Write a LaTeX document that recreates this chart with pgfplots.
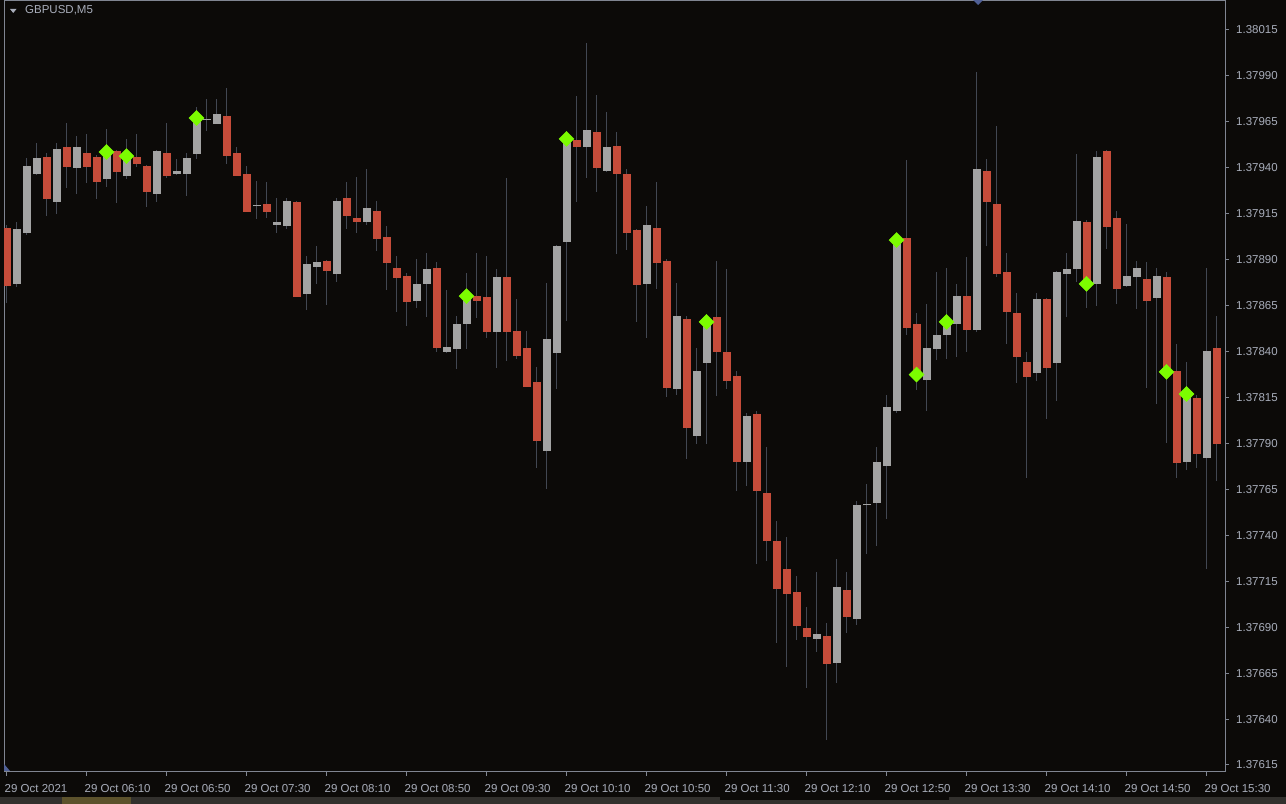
\documentclass[border=0pt]{standalone}
\usepackage{pgfplots}
\pgfplotsset{compat=1.18}
\usepackage{fontspec}
\setmainfont{Liberation Sans}
\definecolor{bgc}{RGB}{12,10,8}
\definecolor{redc}{RGB}{198,76,58}
\definecolor{grayc}{RGB}{163,163,163}
\definecolor{wickc}{RGB}{66,71,82}
\definecolor{framec}{RGB}{128,133,145}
\definecolor{textc}{RGB}{168,173,186}
\definecolor{limec}{RGB}{124,252,0}
\definecolor{markc}{RGB}{80,96,150}
\definecolor{bandc}{RGB}{50,48,45}
\definecolor{patchc}{RGB}{92,82,44}
\newcommand{\lblfont}{\fontsize{11.5bp}{13bp}\selectfont}
\begin{document}
\begin{tikzpicture}
\fill[bgc] (0,0) rectangle (1286bp,804bp);
\fill[bandc] (0,0) rectangle (1286bp,7bp);
\fill[patchc] (62bp,0) rectangle (131bp,7bp);
\fill[bgc] (720bp,4bp) rectangle (949bp,7bp);
% prices are given in points (0.00001) above 1.37600
\begin{axis}[
  at={(4bp,32bp)}, anchor=south west,
  scale only axis, width=1221bp, height=771bp,
  xmin=-0.25, xmax=121.85, ymin=11.19, ymax=430.78,
  axis line style={draw=framec, line width=1bp},
  axis background/.style={fill=bgc},
  xtick={0,8,...,120},
  xticklabels={29 Oct 2021,29 Oct 06:10,29 Oct 06:50,29 Oct 07:30,29 Oct 08:10,29 Oct 08:50,29 Oct 09:30,29 Oct 10:10,29 Oct 10:50,29 Oct 11:30,29 Oct 12:10,29 Oct 12:50,29 Oct 13:30,29 Oct 14:10,29 Oct 14:50,29 Oct 15:30},
  ytick={15,40,...,415},
  yticklabels={1.37615,1.37640,1.37665,1.37690,1.37715,1.37740,1.37765,1.37790,1.37815,1.37840,1.37865,1.37890,1.37915,1.37940,1.37965,1.37990,1.38015},
  tick align=outside, xtick pos=left, ytick pos=right, yticklabel pos=right,
  major tick length=4bp,
  tick style={draw=framec, line width=1bp},
  xticklabel style={anchor=base west, inner sep=0pt, yshift=-17bp, xshift=-2bp, font=\lblfont, text=textc},
  yticklabel style={anchor=west, inner sep=0pt, xshift=7bp, font=\lblfont, text=textc},
  unbounded coords=jump,
]
% wicks (low, high)
\addplot[draw=wickc, line width=1bp, mark=none] coordinates {
(0,266.4)(0,308.9)(0,nan) (1,275.1)(1,310.5)(1,nan) (2,303.4)(2,345.3)(2,nan) (3,336.1)(3,353.5)(3,nan)
(4,313.8)(4,348.1)(4,nan) (5,314.9)(5,353.5)(5,nan) (6,329.0)(6,364.4)(6,nan) (7,325.8)(7,357.3)(7,nan)
(8,331.7)(8,358.4)(8,nan) (9,323.0)(9,347.0)(9,nan) (10,329.6)(10,361.1)(10,nan) (11,320.9)(11,349.7)(11,nan)
(12,333.9)(12,355.7)(12,nan) (13,340.4)(13,358.4)(13,nan) (14,318.7)(14,341.5)(14,nan) (15,321.4)(15,349.7)(15,nan)
(16,334.5)(16,364.4)(16,nan) (17,336.1)(17,344.8)(17,nan) (18,324.7)(18,348.1)(18,nan) (19,344.8)(19,373.1)(19,nan)
(20,360.0)(20,377.4)(20,nan) (21,363.8)(21,377.4)(21,nan) (22,342.1)(22,383.4)(22,nan) (23,335.5)(23,351.3)(23,nan)
(24,316.0)(24,341.0)(24,nan) (25,312.1)(25,332.8)(25,nan) (26,312.7)(26,332.3)(26,nan) (27,304.5)(27,323.6)(27,nan)
(28,306.7)(28,323.6)(28,nan) (29,269.7)(29,321.9)(29,nan) (30,262.6)(30,292.0)(30,nan) (31,276.8)(31,297.5)(31,nan)
(32,265.3)(32,289.8)(32,nan) (33,277.9)(33,323.6)(33,nan) (34,306.7)(34,332.3)(34,nan) (35,304.5)(35,335.0)(35,nan)
(36,308.9)(36,339.4)(36,nan) (37,294.7)(37,321.9)(37,nan) (38,273.5)(38,308.3)(38,nan) (39,261.5)(39,292.0)(39,nan)
(40,253.9)(40,282.8)(40,nan) (41,263.7)(41,290.4)(41,nan) (42,258.8)(42,293.6)(42,nan) (43,239.8)(43,288.7)(43,nan)
(44,239.2)(44,273.5)(44,nan) (45,230.5)(45,259.4)(45,nan) (46,241.4)(46,282.8)(46,nan) (47,258.3)(47,293.6)(47,nan)
(48,247.4)(48,292.0)(48,nan) (49,231.1)(49,284.9)(49,nan) (50,234.9)(50,334.5)(50,nan) (51,236.0)(51,268.6)(51,nan)
(52,220.7)(52,251.2)(52,nan) (53,176.6)(53,231.6)(53,nan) (54,165.2)(54,277.3)(54,nan) (55,219.6)(55,298.0)(55,nan)
(56,256.6)(56,355.1)(56,nan) (57,321.4)(57,379.1)(57,nan) (58,334.5)(58,407.9)(58,nan) (59,326.8)(59,379.6)(59,nan)
(60,337.7)(60,370.4)(60,nan) (61,293.1)(61,359.5)(61,nan) (62,295.3)(62,339.4)(62,nan) (63,256.1)(63,306.7)(63,nan)
(64,247.4)(64,319.2)(64,nan) (65,274.1)(65,332.3)(65,nan) (66,215.3)(66,290.4)(66,nan) (67,216.4)(67,277.3)(67,nan)
(68,181.5)(68,259.4)(68,nan) (69,189.7)(69,241.9)(69,nan) (70,189.7)(70,257.2)(70,nan) (71,215.8)(71,289.3)(71,nan)
(72,219.6)(72,284.9)(72,nan) (73,164.1)(73,229.4)(73,nan) (74,166.8)(74,206.6)(74,nan) (75,124.4)(75,207.7)(75,nan)
(76,126.0)(76,188.1)(76,nan) (77,81.4)(77,147.8)(77,nan) (78,68.3)(78,139.1)(78,nan) (79,83.0)(79,117.9)(79,nan)
(80,56.9)(80,101.0)(80,nan) (81,76.5)(81,120.0)(81,nan) (82,28.6)(82,92.3)(82,nan) (83,59.6)(83,127.1)(83,nan)
(84,86.8)(84,120.0)(84,nan) (85,91.2)(85,158.7)(85,nan) (86,129.8)(86,167.9)(86,nan) (87,134.2)(87,188.1)(87,nan)
(88,148.9)(88,216.4)(88,nan) (89,206.6)(89,301.8)(89,nan) (90,249.0)(90,344.3)(90,nan) (91,219.1)(91,261.0)(91,nan)
(92,207.7)(92,265.9)(92,nan) (93,235.4)(93,283.3)(93,nan) (94,236.0)(94,285.5)(94,nan) (95,237.0)(95,276.8)(95,nan)
(96,239.8)(96,291.5)(96,nan) (97,250.6)(97,392.1)(97,nan) (98,297.5)(98,344.8)(98,nan) (99,280.6)(99,362.8)(99,nan)
(100,244.1)(100,293.6)(100,nan) (101,222.9)(101,271.9)(101,nan) (102,171.2)(102,239.8)(102,nan) (103,224.0)(103,271.9)(103,nan)
(104,203.3)(104,269.2)(104,nan) (105,213.1)(105,283.8)(105,nan) (106,258.8)(106,293.6)(106,nan) (107,277.9)(107,347.5)(107,nan)
(108,263.7)(108,311.6)(108,nan) (109,264.8)(109,349.2)(109,nan) (110,295.8)(110,349.7)(110,nan) (111,265.9)(111,316.5)(111,nan)
(112,275.1)(112,309.4)(112,nan) (113,263.2)(113,289.3)(113,nan) (114,220.2)(114,288.7)(114,nan) (115,211.5)(115,285.5)(115,nan)
(116,190.2)(116,283.3)(116,nan) (117,171.2)(117,244.1)(117,nan) (118,175.5)(118,234.3)(118,nan) (119,176.6)(119,216.4)(119,nan)
(120,121.7)(120,285.5)(120,nan) (121,169.6)(121,259.4)(121,nan)
};
% bearish bodies (open, close)
\addplot[draw=redc, line width=8bp, line cap=butt, mark=none] coordinates {
(0,307.2)(0,275.7)(0,nan) (4,345.9)(4,323.0)(4,nan) (6,351.3)(6,340.4)(6,nan) (8,348.1)(8,340.4)(8,nan)
(9,345.9)(9,332.3)(9,nan) (11,349.2)(11,337.7)(11,nan) (13,345.9)(13,342.1)(13,nan) (14,341.0)(14,326.8)(14,nan)
(16,348.1)(16,335.5)(16,nan) (22,368.2)(22,346.4)(22,nan) (23,348.1)(23,335.5)(23,nan) (24,336.6)(24,316.0)(24,nan)
(26,320.3)(26,316.0)(26,nan) (29,321.4)(29,269.7)(29,nan) (32,289.3)(32,283.8)(32,nan) (34,323.6)(34,313.8)(34,nan)
(35,312.7)(35,310.5)(35,nan) (37,316.5)(37,301.3)(37,nan) (38,302.4)(38,288.2)(38,nan) (39,285.5)(39,280.0)(39,nan)
(40,281.1)(40,267.0)(40,nan) (43,285.5)(43,241.9)(43,nan) (47,270.2)(47,267.5)(47,nan) (48,269.7)(48,250.6)(48,nan)
(50,280.6)(50,250.6)(50,nan) (51,251.2)(51,237.6)(51,nan) (52,241.9)(52,220.7)(52,nan) (53,223.4)(53,191.3)(53,nan)
(57,355.1)(57,351.3)(57,nan) (59,359.5)(59,339.9)(59,nan) (61,351.9)(61,336.6)(61,nan) (62,336.6)(62,304.5)(62,nan)
(63,306.2)(63,276.2)(63,nan) (65,307.2)(65,288.2)(65,nan) (66,289.3)(66,220.2)(66,nan) (68,257.7)(68,198.4)(68,nan)
(71,258.8)(71,239.8)(71,nan) (72,239.8)(72,224.0)(72,nan) (73,226.7)(73,179.9)(73,nan) (75,206.0)(75,164.1)(75,nan)
(76,163.0)(76,136.9)(76,nan) (77,136.9)(77,110.8)(77,nan) (78,121.7)(78,108.1)(78,nan) (79,109.2)(79,90.6)(79,nan)
(80,89.6)(80,84.7)(80,nan) (82,85.2)(82,70.0)(82,nan) (84,110.2)(84,95.5)(84,nan) (90,301.8)(90,252.8)(90,nan)
(91,255.0)(91,228.3)(91,nan) (96,270.2)(96,251.7)(96,nan) (98,338.3)(98,321.4)(98,nan) (99,320.3)(99,282.2)(99,nan)
(100,283.3)(100,261.5)(100,nan) (101,261.0)(101,237.0)(101,nan) (102,234.3)(102,226.2)(102,nan) (104,268.6)(104,231.1)(104,nan)
(108,310.5)(108,277.9)(108,nan) (110,349.2)(110,307.8)(110,nan) (111,312.7)(111,274.1)(111,nan) (114,279.5)(114,267.5)(114,nan)
(116,280.6)(116,228.9)(116,nan) (117,229.4)(117,179.4)(117,nan) (119,214.7)(119,184.3)(119,nan) (121,241.9)(121,189.7)(121,nan)
};
% bullish bodies (open, close)
\addplot[draw=grayc, line width=8bp, line cap=butt, mark=none] coordinates {
(1,276.8)(1,306.7)(1,nan) (2,304.5)(2,341.0)(2,nan) (3,336.6)(3,345.3)(3,nan) (5,321.4)(5,350.2)(5,nan)
(7,339.9)(7,351.3)(7,nan) (10,333.9)(10,348.1)(10,nan) (12,335.5)(12,348.1)(12,nan) (15,325.8)(15,349.2)(15,nan)
(17,336.6)(17,338.3)(17,nan) (18,336.6)(18,345.3)(18,nan) (19,347.5)(19,367.1)(19,nan) (20,365.8)(20,366.3)(20,nan)
(21,363.8)(21,369.3)(21,nan) (25,319.0)(25,319.5)(25,nan) (27,308.9)(27,310.5)(27,nan) (28,308.3)(28,321.9)(28,nan)
(30,271.3)(30,287.7)(30,nan) (31,286.0)(31,288.7)(31,nan) (33,282.2)(33,321.9)(33,nan) (36,310.5)(36,318.1)(36,nan)
(41,267.5)(41,276.8)(41,nan) (42,276.8)(42,284.9)(42,nan) (44,239.8)(44,242.5)(44,nan) (45,241.4)(45,255.0)(45,nan)
(46,255.0)(46,269.7)(46,nan) (49,250.6)(49,280.6)(49,nan) (54,185.9)(54,246.8)(54,nan) (55,239.2)(55,297.5)(55,nan)
(56,299.6)(56,354.1)(56,nan) (58,351.3)(58,360.6)(58,nan) (60,338.3)(60,351.3)(60,nan) (64,276.8)(64,308.9)(64,nan)
(67,219.6)(67,259.4)(67,nan) (69,194.1)(69,229.4)(69,nan) (70,233.8)(70,256.1)(70,nan) (74,179.9)(74,204.9)(74,nan)
(81,83.6)(81,86.3)(81,nan) (83,70.5)(83,111.9)(83,nan) (85,94.5)(85,156.5)(85,nan) (86,156.3)(86,156.8)(86,nan)
(87,157.6)(87,179.9)(87,nan) (88,177.7)(88,209.8)(88,nan) (89,207.7)(89,299.1)(89,nan) (92,224.5)(92,241.9)(92,nan)
(93,241.4)(93,249.0)(93,nan) (94,249.0)(94,255.5)(94,nan) (95,255.0)(95,270.2)(95,nan) (97,251.7)(97,339.4)(97,nan)
(103,228.3)(103,268.6)(103,nan) (105,233.8)(105,283.3)(105,nan) (106,282.2)(106,284.9)(106,nan) (107,284.9)(107,311.1)(107,nan)
(109,276.8)(109,345.9)(109,nan) (112,275.7)(112,281.1)(112,nan) (113,280.6)(113,285.5)(113,nan) (115,269.2)(115,281.1)(115,nan)
(118,179.9)(118,216.9)(118,nan) (120,182.1)(120,240.3)(120,nan)
};
% signal markers
\addplot[only marks, mark=square*, mark size=5.3bp, mark options={rotate=45, draw=limec, fill=limec}] coordinates {
(10,348.6) (12,346.4) (19,367.1) (46,270.2) (56,355.7) (70,256.1) (89,300.7) (91,227.5) (94,256.1) (108,276.8) (116,228.9) (118,216.9)
};
\end{axis}
\fill[textc] (10bp,795bp) -- (16.5bp,795bp) -- (13.25bp,791bp) -- cycle;
\node[anchor=base west, inner sep=0pt, text=textc, font=\lblfont] at (25bp,790bp) {GBPUSD,M5};
\fill[markc] (973bp,804bp) -- (983bp,804bp) -- (978bp,799bp) -- cycle;
\fill[markc] (4bp,33bp) -- (10bp,33bp) -- (4bp,40bp) -- cycle;
\pgfresetboundingbox
\path[use as bounding box] (0,0) rectangle (1286bp,804bp);
\end{tikzpicture}
\end{document}
